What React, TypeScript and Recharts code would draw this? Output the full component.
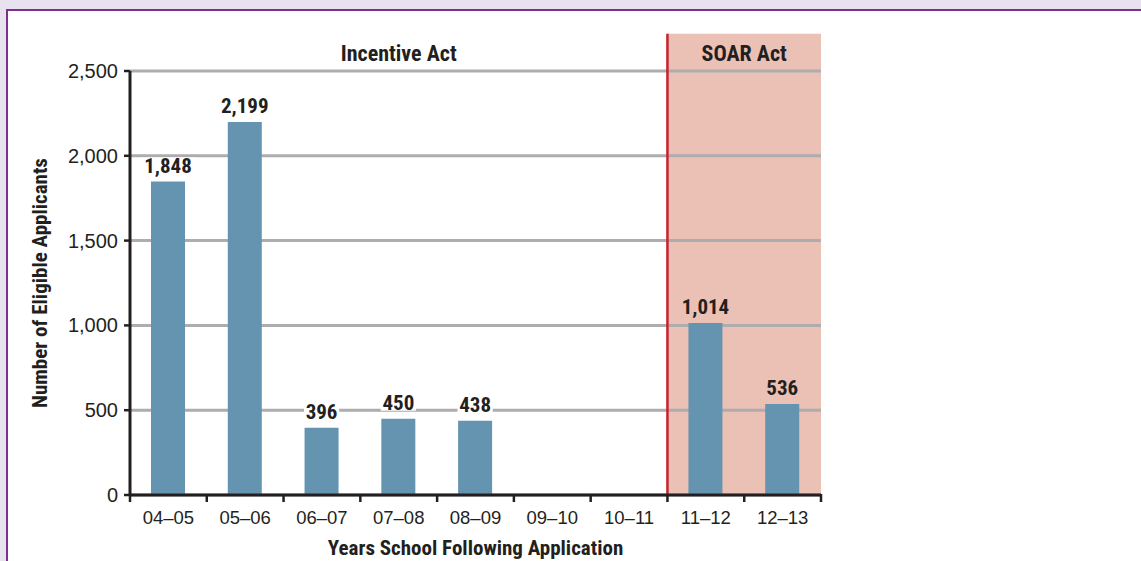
import React from 'react';
import {
  BarChart,
  Bar,
  XAxis,
  YAxis,
  CartesianGrid,
  ReferenceArea,
  ReferenceLine,
  LabelList,
  Label,
} from 'recharts';

// school years after application
const years = ['04–05', '05–06', '06–07', '07–08', '08–09', '09–10', '10–11', '11–12', '12–13'];
// eligible applicants per year
const applicants = [1848, 2199, 396, 450, 438, 0, 0, 1014, 536];
const yTicks = [0, 500, 1000, 1500, 2000, 2500];
// program periods (first and last year)
const incentiveYears = ['04–05', '10–11'];
const soarYears = ['11–12', '12–13'];
// the period header boxes reach a bit above the top tick
const headerTop = 2720;

const data = years.map((year, i) => ({ year, count: applicants[i] }));

const W = 1141;
const H = 561;
const margin = { top: 71, right: 320, bottom: 0, left: 0 };
const Y_AXIS_W = 130;
const PLOT_X = margin.left + Y_AXIS_W;
const BAND = (W - margin.left - margin.right - Y_AXIS_W) / years.length;

const INK = '#231f20';
const BAR = '#6594b1';
const PINK = '#ebc0b5';
const RED = '#c8202f';
const GRID = '#adadaf';
const BOOK = "'Liberation Sans', Arial, sans-serif";
const DEMI = "'Liberation Sans Narrow', 'Roboto Condensed', 'Roboto', sans-serif";

const fmt = (v: number) => v.toLocaleString('en-US');

function YearTick(props: any) {
  const { x, y, payload, index } = props;
  return (
    <g>
      <line x1={x - BAND / 2} x2={x - BAND / 2} y1={y} y2={y + 7} stroke={INK} strokeWidth={2.5} />
      {index === years.length - 1 && (
        <line x1={x + BAND / 2} x2={x + BAND / 2} y1={y - 1} y2={y + 7} stroke={INK} strokeWidth={2.5} />
      )}
      <text x={x} y={y + 29} textAnchor="middle" fontFamily={BOOK} fontSize={18.5} fill={INK}>
        {payload.value}
      </text>
    </g>
  );
}

function ValueTick(props: any) {
  const { x, y, payload } = props;
  return (
    <text x={x} y={y} dy={7} textAnchor="end" fontFamily={BOOK} fontSize={20} fill={INK}>
      {fmt(Number(payload.value))}
    </text>
  );
}

function ValueLabel(props: any) {
  const { x, y, width, value } = props;
  if (!value) return null;
  const cx = Number(x) + Number(width) / 2;
  const text = fmt(Number(value));
  const w = text.length * 10.4 + 4;
  // which year band the bar sits in
  const band = Math.floor((cx - PLOT_X) / BAND);
  const inSoar = soarYears.includes(years[band]);
  return (
    <g>
      {!inSoar && <rect x={cx - w / 2} y={y - 24} width={w} height={16} fill="#fff" />}
      <text x={cx} y={y - 9} textAnchor="middle" fontFamily={DEMI} fontWeight="bold" fontSize={21} fill={INK}>
        {text}
      </text>
    </g>
  );
}

function YTitle(props: any) {
  const { viewBox } = props;
  const cx = viewBox.x + 40;
  const cy = viewBox.y + viewBox.height / 2;
  return (
    <text
      x={cx}
      y={cy}
      transform={`rotate(-90, ${cx}, ${cy})`}
      textAnchor="middle"
      dominantBaseline="central"
      fontFamily={DEMI}
      fontWeight="bold"
      fontSize={21}
      fill={INK}
    >
      Number of Eligible Applicants
    </text>
  );
}

export default function App() {
  return (
    <div style={{ position: 'absolute', left: 0, top: 0, width: W, height: H, background: '#e8e1ee', overflow: 'hidden' }}>
      <div
        style={{
          position: 'absolute',
          left: 6,
          top: 9,
          right: 0,
          bottom: 0,
          background: '#fff',
          borderTop: '2px solid #7d2e8e',
          borderLeft: '2px solid #7d2e8e',
        }}
      />
      <div style={{ position: 'absolute', left: 0, top: 0 }}>
        <BarChart width={W} height={H} data={data} margin={margin}>
          <ReferenceArea
            x1={soarYears[0]}
            x2={soarYears[1]}
            y1={0}
            y2={headerTop}
            fill={PINK}
            fillOpacity={1}
            stroke="none"
            ifOverflow="visible"
            zIndex={-200}
          >
            <Label value="SOAR Act" position="insideTop" offset={12} fontFamily={DEMI} fontWeight="bold" fontSize={22} fill={INK} />
          </ReferenceArea>
          <ReferenceArea
            x1={incentiveYears[0]}
            x2={incentiveYears[1]}
            y1={0}
            y2={headerTop}
            fill="none"
            fillOpacity={0}
            stroke="none"
            ifOverflow="visible"
            zIndex={-200}
          >
            <Label value="Incentive Act" position="insideTop" offset={12} fontFamily={DEMI} fontWeight="bold" fontSize={22} fill={INK} />
          </ReferenceArea>
          <CartesianGrid vertical={false} stroke={GRID} strokeWidth={3} />
          <XAxis
            dataKey="year"
            height={66}
            tickSize={0}
            tickMargin={0}
            tickLine={false}
            axisLine={{ stroke: INK, strokeWidth: 3 }}
            tick={<YearTick />}
            interval={0}
          >
            <Label
              value="Years School Following Application"
              position="insideBottom"
              offset={6}
              fontFamily={DEMI}
              fontWeight="bold"
              fontSize={21}
              fill={INK}
            />
          </XAxis>
          <YAxis
            width={Y_AXIS_W}
            domain={[0, 2500]}
            ticks={yTicks}
            allowDataOverflow
            tickSize={6}
            tickMargin={6}
            tickLine={{ stroke: INK, strokeWidth: 2.5 }}
            axisLine={{ stroke: INK, strokeWidth: 3 }}
            tick={<ValueTick />}
            label={<YTitle />}
          />
          <ReferenceLine
            segment={[
              { x: soarYears[0], y: 0 },
              { x: soarYears[0], y: headerTop },
            ]}
            position="start"
            stroke={RED}
            strokeWidth={2.5}
            ifOverflow="visible"
          />
          <Bar dataKey="count" fill={BAR} barSize={34} isAnimationActive={false}>
            <LabelList dataKey="count" content={<ValueLabel />} />
          </Bar>
        </BarChart>
      </div>
    </div>
  );
}
